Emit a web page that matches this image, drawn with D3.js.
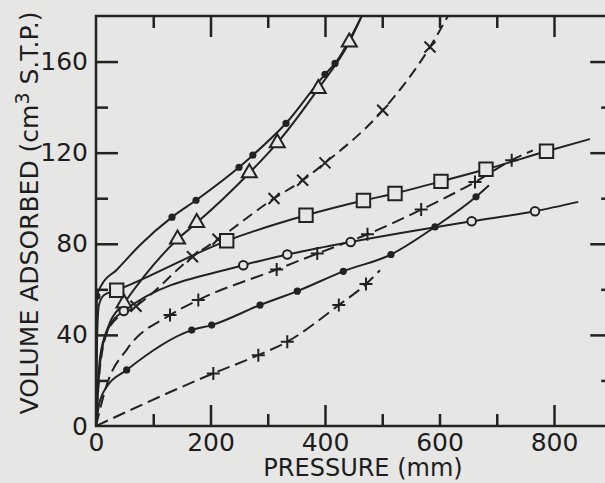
<!DOCTYPE html>
<html>
<head>
<meta charset="utf-8">
<script src="https://cdn.jsdelivr.net/npm/d3@7"></script>
<style>
  body { margin: 0; background: #e6e6e4; }
  text { font-family: "DejaVu Sans", sans-serif; fill: #1d1d1d; }
</style>
</head>
<body>
<script>
"use strict";

/*
  Values, as [pressure (mm), volume (cm3 S.T.P.)]
  "...Marks" are the plotted symbols, "...Path" are extra points of the drawn curve
*/
var xLabels = [0, 200, 400, 600, 800];
var xLongTicks = [200, 400, 800];
var xShortTicks = [100, 300, 500, 600, 700];
var yLabels = [0, 40, 80, 120, 160];
var yLongTicks = [40, 80, 120, 160];
var yShortTicks = [20, 60, 100, 140];

var dotsUpperMarks = [[1.5, 57], [132.8, 91.7], [174.7, 99.1], [249.8, 113.6], [274, 118.9],
                      [331.9, 132.9], [400, 154.4], [417.5, 159.2]];
var dotsUpperPath = [[0, 0], [10, 62], [36, 68.5], [77, 79.5], [466, 181]];

var triangleMarks = [[48.9, 53.9], [142.4, 82], [175.9, 89.2], [267.8, 111.1], [316.7, 124.3],
                     [388.3, 148.1], [442.4, 168.5]];
var trianglePath = [[0, 0], [7, 30], [22, 44], [466, 181]];

var crossMarks = [[69.9, 52.6], [168.6, 74.3], [213.1, 82], [310.9, 99.9], [361, 107.9],
                  [400, 115.5], [500.8, 138.6], [583.4, 166.4]];
var crossPath = [[0, 0], [8, 28], [25, 44], [85, 55.5], [617, 181]];

var ringMarks = [[48.5, 50.5], [257.3, 70.6], [334.1, 75.3], [444.9, 80.8], [656.2, 89.9], [766.8, 94.3]];
var ringPath = [[0, 0], [6, 25], [20, 42], [842.4, 98.4]];

var squareMarks = [[36.2, 59.6], [228.3, 81.3], [366.8, 92.5], [467.2, 99], [522.3, 102.1],
                   [602.6, 107.4], [681.2, 112.7], [786.9, 120.6]];
var squarePath = [[0, 0], [1.5, 35], [5, 53], [14, 57.5], [862.9, 126]];

var plusUpperMarks = [[129.3, 48.7], [178.7, 55.3], [315.6, 68.7], [386.5, 75.7], [474.2, 84.2],
                      [568, 95], [662, 107.1], [726.1, 116.7]];
var plusUpperPath = [[0, 0], [18.7, 18], [55, 34], [763, 121]];

var dotsLowerMarks = [[53.6, 24.6], [167.2, 42.1], [202.1, 44.3], [286.5, 53.1], [351.6, 59.2],
                      [432, 67.9], [515.3, 75.3], [592.1, 87.4], [663.8, 100.6]];
var dotsLowerPath = [[0, 0], [5, 9], [18, 17], [686.5, 105.7]];

var plusLowerMarks = [[204.9, 23.1], [283.5, 31.1], [334.1, 37], [424.1, 53.1], [471.6, 62.3]];
var plusLowerPath = [[0, 0], [496, 68.4]];

var ink = "#222",
    paper = "#e6e6e4";

var series = [
  { marks: dotsUpperMarks, path: dotsUpperPath, symbol: "dot", dash: null },
  { marks: triangleMarks, path: trianglePath, symbol: "triangle", dash: null },
  { marks: crossMarks, path: crossPath, symbol: "cross", dash: "11,6" },
  { marks: ringMarks, path: ringPath, symbol: "ring", dash: null },
  { marks: squareMarks, path: squarePath, symbol: "square", dash: null },
  { marks: plusUpperMarks, path: plusUpperPath, symbol: "plus", dash: "13,6" },
  { marks: dotsLowerMarks, path: dotsLowerPath, symbol: "dot", dash: null },
  { marks: plusLowerMarks, path: plusLowerPath, symbol: "plus", dash: "13,6" }
];

/*
  Setup
*/
var width = 605,
    height = 483;

var svg = d3.select("body")
  .append("svg")
    .attr("width", width)
    .attr("height", height);

var x = d3.scaleLinear().domain([0, 900]).range([96, 611.25]);
var y = d3.scaleLinear().domain([0, 180]).range([426, 16]);

svg.append("clipPath")
    .attr("id", "plot")
  .append("rect")
    .attr("x", x(0))
    .attr("y", y(180))
    .attr("width", x(900) - x(0))
    .attr("height", y(0) - y(180));

/*
  Curves
*/
var line = d3.line()
  .x(function (d) { return x(d[0]); })
  .y(function (d) { return y(d[1]); })
  .curve(d3.curveMonotoneX);

var curves = svg.append("g").attr("clip-path", "url(#plot)");

series.forEach(function (s) {
  var pts = s.path.concat(s.marks).sort(function (a, b) { return a[0] - b[0]; });
  curves.append("path")
    .datum(pts)
    .attr("d", line)
    .attr("fill", "none")
    .attr("stroke", ink)
    .attr("stroke-width", 2)
    .attr("stroke-dasharray", s.dash);
});

/*
  Symbols
*/
var shapes = {
  triangle: "M0,-8.7L7.5,4.3L-7.5,4.3Z",
  square: "M-6.7,-6.7H6.7V6.7H-6.7Z",
  plus: "M-6.5,0H6.5M0,-6.5V6.5",
  cross: "M-5.5,-5.5L5.5,5.5M-5.5,5.5L5.5,-5.5"
};

series.forEach(function (s) {
  var g = curves.append("g");
  var pts = g.selectAll("g")
    .data(s.marks)
    .enter()
    .append("g")
      .attr("transform", function (d) { return "translate(" + x(d[0]) + "," + y(d[1]) + ")"; });
  if (s.symbol === "dot") {
    pts.append("circle").attr("r", 3.6).attr("fill", ink);
  } else if (s.symbol === "ring") {
    pts.append("circle").attr("r", 4.3).attr("fill", paper)
      .attr("stroke", ink).attr("stroke-width", 2);
  } else {
    pts.append("path")
      .attr("d", shapes[s.symbol])
      .attr("fill", s.symbol === "plus" || s.symbol === "cross" ? "none" : paper)
      .attr("stroke", ink)
      .attr("stroke-width", 2);
  }
});

/*
  Axes: frame, inward ticks on all four sides
*/
function styleAxis(g) {
  g.select(".domain").remove();
  g.selectAll(".tick line").attr("stroke", ink).attr("stroke-width", 2.5);
}

svg.append("g").attr("transform", "translate(0," + y(0) + ")")
  .call(d3.axisBottom(x).tickValues(xLongTicks).tickSize(-21).tickFormat(""))
  .call(styleAxis);
svg.append("g").attr("transform", "translate(0," + y(0) + ")")
  .call(d3.axisBottom(x).tickValues(xShortTicks).tickSize(-12).tickFormat(""))
  .call(styleAxis);
svg.append("g").attr("transform", "translate(0," + y(180) + ")")
  .call(d3.axisTop(x).tickValues(xLongTicks).tickSize(-21).tickFormat(""))
  .call(styleAxis);
svg.append("g").attr("transform", "translate(0," + y(180) + ")")
  .call(d3.axisTop(x).tickValues(xShortTicks).tickSize(-12).tickFormat(""))
  .call(styleAxis);

svg.append("g").attr("transform", "translate(" + x(0) + ",0)")
  .call(d3.axisLeft(y).tickValues(yLongTicks).tickSize(-22).tickFormat(""))
  .call(styleAxis);
svg.append("g").attr("transform", "translate(" + x(0) + ",0)")
  .call(d3.axisLeft(y).tickValues(yShortTicks).tickSize(-12).tickFormat(""))
  .call(styleAxis);
svg.append("g").attr("transform", "translate(" + x(900) + ",0)")
  .call(d3.axisRight(y).tickValues(yLongTicks).tickSize(-21).tickFormat(""))
  .call(styleAxis);
svg.append("g").attr("transform", "translate(" + x(900) + ",0)")
  .call(d3.axisRight(y).tickValues(yShortTicks).tickSize(-10).tickFormat(""))
  .call(styleAxis);

// tick labels
var xAxis = svg.append("g").attr("transform", "translate(0," + y(0) + ")")
  .call(d3.axisBottom(x).tickValues(xLabels).tickSize(0).tickPadding(7));
xAxis.select(".domain").remove();
xAxis.selectAll("text").style("font-size", "25px").attr("font-family", null);

var yAxis = svg.append("g").attr("transform", "translate(" + x(0) + ",0)")
  .call(d3.axisLeft(y).tickValues(yLabels).tickSize(0).tickPadding(8));
yAxis.select(".domain").remove();
yAxis.selectAll("text").style("font-size", "25px").attr("font-family", null);

svg.append("rect")
    .attr("x", x(0))
    .attr("y", y(180))
    .attr("width", x(900) - x(0))
    .attr("height", y(0) - y(180))
    .attr("fill", "none")
    .attr("stroke", ink)
    .attr("stroke-width", 2.5);

/*
  Axis titles
*/
svg.append("text")
    .attr("x", 363)
    .attr("y", 476)
    .attr("text-anchor", "middle")
    .style("font-size", "24px")
    .text("PRESSURE (mm)");

var yTitle = svg.append("text")
    .attr("transform", "translate(38,213) rotate(-90)")
    .attr("text-anchor", "middle")
    .style("font-size", "25px");
yTitle.append("tspan").text("VOLUME ADSORBED (cm");
yTitle.append("tspan").attr("dy", -9).style("font-size", "19px").text("3");
yTitle.append("tspan").attr("dy", 9).text(" S.T.P.)");
</script>
</body>
</html>
